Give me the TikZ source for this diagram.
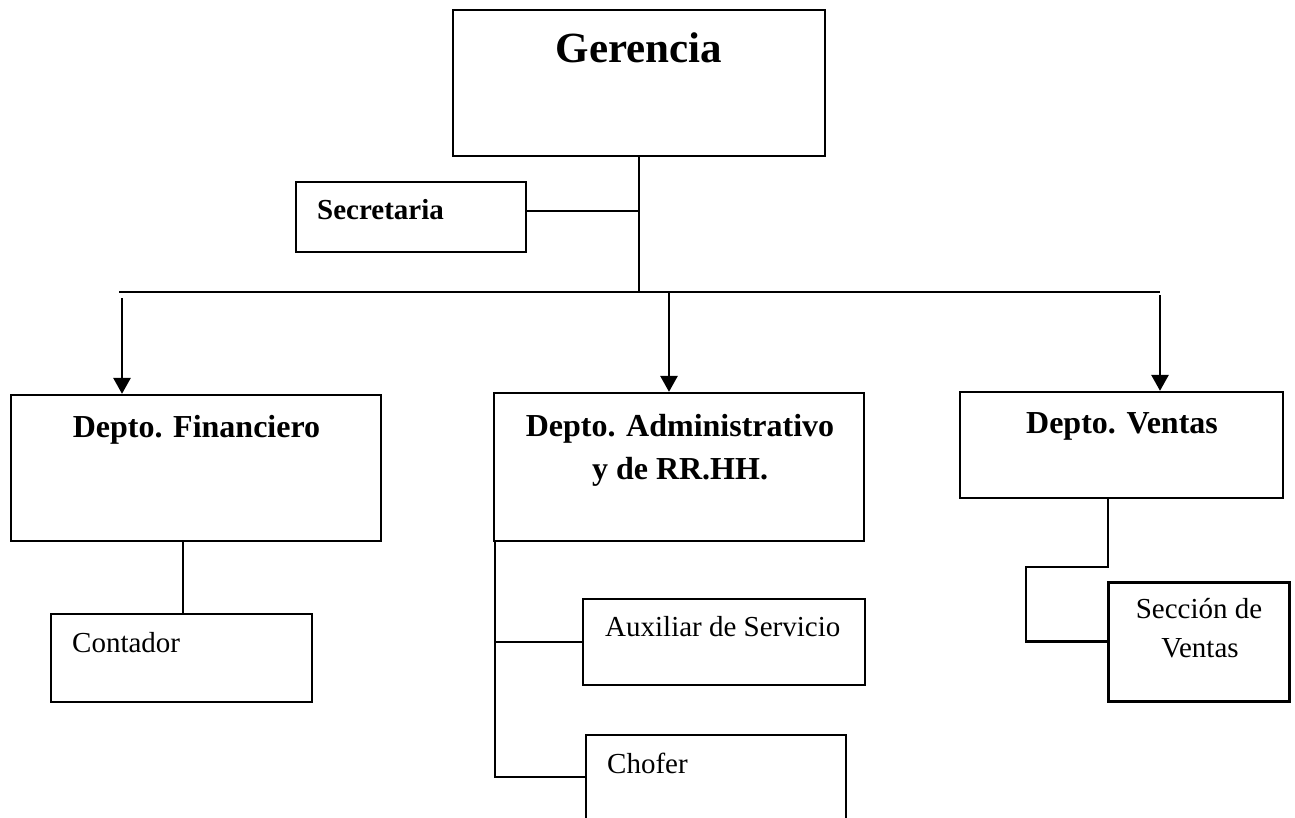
\documentclass[tikz,border=0pt]{standalone}
\usepackage{fontspec}
\setmainfont{Liberation Serif}
\usetikzlibrary{arrows.meta}
\tikzset{
  box/.style={draw, line width=2.3pt, rectangle, inner sep=0pt},
  thickbox/.style={box, line width=3pt},
  link/.style={line width=2.3pt},
  arr/.style={line width=2.8pt, -{Triangle[width=17pt,length=16pt]}},
  huge/.style={font=\fontsize{43}{50}\selectfont\bfseries, inner sep=0pt},
  head/.style={font=\fontsize{32}{38}\selectfont\bfseries, inner sep=0pt},
  mid/.style={font=\fontsize{29}{34}\selectfont\bfseries, inner sep=0pt},
  plain/.style={font=\fontsize{29}{34}\selectfont, inner sep=0pt}
}
\begin{document}
\begin{tikzpicture}[x=1pt,y=-1pt]
\useasboundingbox (0,0) rectangle (1295,818);
\clip (0,0) rectangle (1295,818);

% boxes
\node[box, minimum width=372pt, minimum height=146pt] (ger) at (639,83) {};
\node[box, minimum width=230pt, minimum height=70pt] (sec) at (411,217) {};
\node[box, minimum width=370pt, minimum height=146pt] (fin) at (196,468) {};
\node[box, minimum width=370pt, minimum height=148pt] (adm) at (679,467) {};
\node[box, minimum width=323pt, minimum height=106pt] (ven) at (1121.5,445) {};
\node[box, minimum width=261pt, minimum height=88pt] (con) at (181.5,658) {};
\node[box, minimum width=282pt, minimum height=86pt] (aux) at (724,642) {};
\node[box, minimum width=260pt, minimum height=110pt] (cho) at (716,790) {};
\node[thickbox, minimum width=181pt, minimum height=119pt] (secv) at (1198.5,641.5) {};

% labels
\node[huge, anchor=base] (ger-t) at (639,63) {Gerencia};
\node[mid, anchor=base west] (sec-t) at (317,220) {Secretaria};
\node[head, anchor=base] (fin-t) at (196.5,437) {Depto. Financiero};
\node[head, anchor=base] (adm-t1) at (680,436) {Depto. Administrativo};
\node[head, anchor=base] (adm-t2) at (680,479) {y de RR.HH.};
\node[head, anchor=base] (ven-t) at (1122,433) {Depto. Ventas};
\node[plain, anchor=base west] (con-t) at (72,652) {Contador};
\node[plain, anchor=base west] (aux-t) at (605,636) {Auxiliar de Servicio};
\node[plain, anchor=base west] (cho-t) at (607,773) {Chofer};
\node[plain, anchor=base] (secv-t1) at (1199,618) {Sección de};
\node[plain, anchor=base] (secv-t2) at (1200,657) {Ventas};

% junction points
\coordinate (bus) at (639,292);
\coordinate (busL) at (119,292);
\coordinate (busR) at (1160,292);
\coordinate (secj) at (639,211);
\coordinate (finA) at (122,298);
\coordinate (admA) at (669,292);
\coordinate (venA) at (1160,295);
\coordinate (finC) at (183,541);
\coordinate (admL) at (495,541);
\coordinate (admE) at (495,777);
\coordinate (venC) at (1108,498);
\coordinate (venM) at (1026,567);

% connectors
\draw[link] (ger.south) -- (bus);
\draw[link] (sec.east |- secj) -- (secj);
\draw[link] (busL) -- (busR);
\draw[arr] (finA) -- (finA |- fin.north);
\draw[arr] (admA) -- (admA |- adm.north);
\draw[arr] (venA) -- (venA |- ven.north);
\draw[link] (finC) -- (finC |- con.north);
\draw[link] (admL) -- (admE) -- (admE -| cho.west);
\draw[link] (admL |- aux.west) -- (aux.west);
\draw[link] (venC) |- (venM) |- (secv.west);
\end{tikzpicture}
\end{document}
